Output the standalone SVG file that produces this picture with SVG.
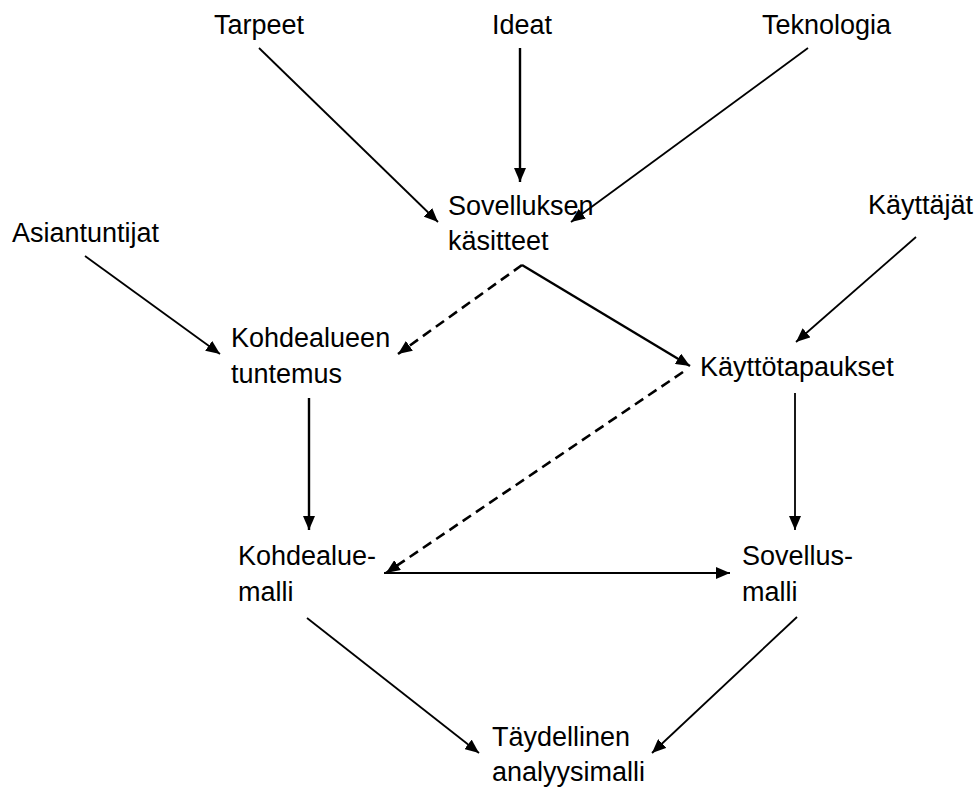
<svg xmlns="http://www.w3.org/2000/svg" width="977" height="787" viewBox="0 0 977 787">
  <defs>
    <style>
      .lbl { font-family: "Liberation Sans", Arial, sans-serif; font-size: 27px; fill: #000; }
      .edge { stroke: #000; stroke-width: 1.8; fill: none; marker-end: url(#head); }
      .bold { stroke-width: 2.4; }
      .dash { stroke-width: 2.6; stroke-dasharray: 10 6; }
    </style>
    <marker id="head" markerUnits="userSpaceOnUse" markerWidth="16" markerHeight="12" refX="14" refY="6" orient="auto">
      <path d="M0,0 L14,6 L0,12 Z" fill="#000"/>
    </marker>
  </defs>
  <rect width="977" height="787" fill="#fff"/>

  <!-- connectors -->
  <g id="connectors">
    <line class="edge" x1="259" y1="48" x2="438" y2="222"/>
    <line class="edge bold" x1="520" y1="48" x2="520" y2="182"/>
    <line class="edge" x1="808" y1="48" x2="571" y2="222"/>
    <line class="edge" x1="85" y1="256" x2="220" y2="354"/>
    <line class="edge dash" x1="522" y1="265" x2="398" y2="354"/>
    <line class="edge bold" x1="522" y1="265" x2="690" y2="366"/>
    <line class="edge" x1="916" y1="237" x2="796" y2="342"/>
    <line class="edge dash" x1="683" y1="372" x2="386" y2="573"/>
    <line class="edge bold" x1="309" y1="398" x2="309" y2="530"/>
    <line class="edge" x1="384" y1="573" x2="730" y2="573"/>
    <line class="edge" x1="795" y1="393" x2="795" y2="530"/>
    <line class="edge" x1="307" y1="618" x2="479" y2="753"/>
    <line class="edge" x1="797" y1="617" x2="652" y2="753"/>
  </g>

  <!-- nodes -->
  <g id="tarpeet"><text class="lbl" x="214" y="34">Tarpeet</text></g>
  <g id="ideat"><text class="lbl" x="492" y="34">Ideat</text></g>
  <g id="teknologia"><text class="lbl" x="762" y="34">Teknologia</text></g>
  <g id="sovelluksen-kasitteet">
    <text class="lbl" x="448" y="215">Sovelluksen</text>
    <text class="lbl" x="448" y="250">käsitteet</text>
  </g>
  <g id="kayttajat"><text class="lbl" x="868" y="214">Käyttäjät</text></g>
  <g id="asiantuntijat"><text class="lbl" x="12" y="242">Asiantuntijat</text></g>
  <g id="kohdealueen-tuntemus">
    <text class="lbl" x="231" y="347">Kohdealueen</text>
    <text class="lbl" x="231" y="383">tuntemus</text>
  </g>
  <g id="kayttotapaukset"><text class="lbl" x="700" y="376">Käyttötapaukset</text></g>
  <g id="kohdealuemalli">
    <text class="lbl" x="238" y="565">Kohdealue-</text>
    <text class="lbl" x="238" y="601">malli</text>
  </g>
  <g id="sovellusmalli">
    <text class="lbl" x="742" y="565">Sovellus-</text>
    <text class="lbl" x="742" y="601">malli</text>
  </g>
  <g id="taydellinen-analyysimalli">
    <text class="lbl" x="492" y="746">Täydellinen</text>
    <text class="lbl" x="492" y="781">analyysimalli</text>
  </g>
</svg>
